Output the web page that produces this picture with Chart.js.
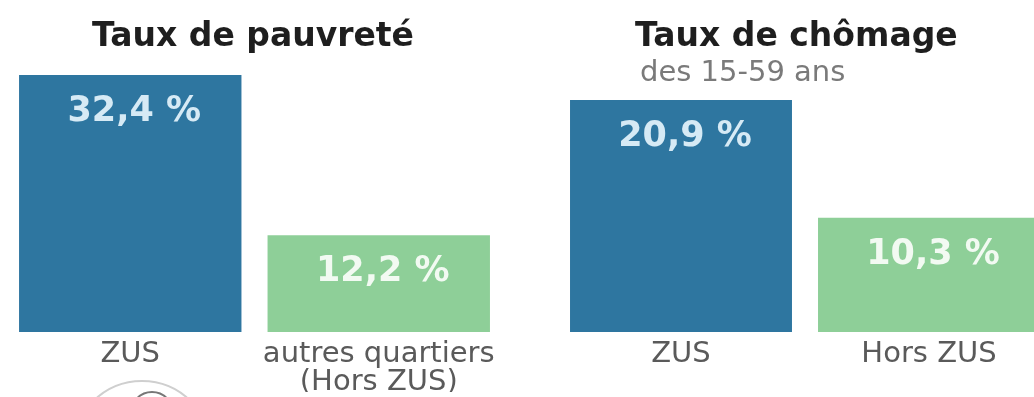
<!DOCTYPE html>
<html lang="fr">
<head>
<meta charset="utf-8">
<title>ZUS : pauvreté et chômage</title>
<script src="https://cdn.jsdelivr.net/npm/chart.js@4.4.1/dist/chart.umd.min.js"></script>
<style>
  html, body { margin: 0; padding: 0; background: #fff; overflow: hidden; }
  body { position: relative; width: 1034px; height: 397px; font-family: "DejaVu Sans", sans-serif; }
  .box { position: absolute; top: 0; height: 397px; }
  #box1 { left: 0; width: 517px; }
  #box2 { left: 517px; width: 560px; }
  h2 { position: absolute; margin: 0; font-size: 33px; font-weight: bold; color: #1e1e1e; white-space: nowrap; }
  #t1 { left: 92px; top: 15px; }
  #t2 { left: 635px; top: 15px; }
  #sub2 { position: absolute; left: 640px; top: 54px; font-size: 29px; color: #7a7a7a; white-space: nowrap; }
  .logo { position: absolute; border-radius: 50%; }
  #logo1 { left: 72px; top: 380px; width: 136px; height: 136px; border: 2px solid #cfcfcf; }
  #logo2 { left: 130px; top: 391px; width: 40px; height: 40px; border: 2px solid #777; }
</style>
</head>
<body>

<div class="box" id="box1"><canvas id="pauvrete"></canvas></div>
<div class="box" id="box2"><canvas id="chomage"></canvas></div>
<h2 id="t1">Taux de pauvreté</h2>
<h2 id="t2">Taux de chômage</h2>
<div id="sub2">des 15-59 ans</div>
<div class="logo" id="logo1"></div>
<div class="logo" id="logo2"></div>

<script>
// données
const pauvreteLabels = ['ZUS', ['autres quartiers', '(Hors ZUS)']];
const pauvreteValues = [32.4, 12.2];
const chomageLabels = ['ZUS', 'Hors ZUS'];
const chomageValues = [20.9, 10.3];
const barColors = ['#2e76a0', '#8ecf98'];
const valueColors = ['#d6eaf5', '#f2faf2'];

// écrit "32,4 %" en haut de chaque barre
const valueLabels = {
  id: 'valueLabels',
  afterDatasetsDraw(chart) {
    const ctx = chart.ctx;
    const meta = chart.getDatasetMeta(0);
    const values = chart.data.datasets[0].data;
    ctx.save();
    ctx.font = 'bold 35px "DejaVu Sans"';
    ctx.textAlign = 'center';
    ctx.textBaseline = 'middle';
    meta.data.forEach(function (bar, i) {
      ctx.fillStyle = valueColors[i];
      ctx.fillText(String(values[i]).replace('.', ',') + ' %', bar.x + 4, bar.y + 37);
    });
    ctx.restore();
  }
};

function makeChart(id, labels, values, padding) {
  return new Chart(document.getElementById(id), {
    type: 'bar',
    data: {
      labels: labels,
      datasets: [{
        data: values,
        backgroundColor: barColors,
        borderWidth: 0,
        barPercentage: 1,
        categoryPercentage: 0.895
      }]
    },
    options: {
      responsive: true,
      maintainAspectRatio: false,
      animation: false,
      layout: { padding: padding },
      plugins: {
        legend: { display: false },
        tooltip: { enabled: false }
      },
      scales: {
        x: {
          grid: { display: false, drawTicks: false },
          border: { display: false },
          ticks: {
            color: '#5a5a5a',
            padding: 9,
            maxRotation: 0,
            autoSkip: false,
            font: { family: '"DejaVu Sans"', size: 29, lineHeight: 0.95 }
          },
          afterFit(scale) { scale.height = 60; }
        },
        y: {
          display: false,
          min: 0,
          max: Math.max.apply(null, values)
        }
      }
    },
    plugins: [valueLabels]
  });
}

makeChart('pauvrete', pauvreteLabels, pauvreteValues, { top: 75, bottom: 5, left: 6, right: 14 });
makeChart('chomage', chomageLabels, chomageValues, { top: 100, bottom: 5, left: 40, right: 24 });
</script>
</body>
</html>
